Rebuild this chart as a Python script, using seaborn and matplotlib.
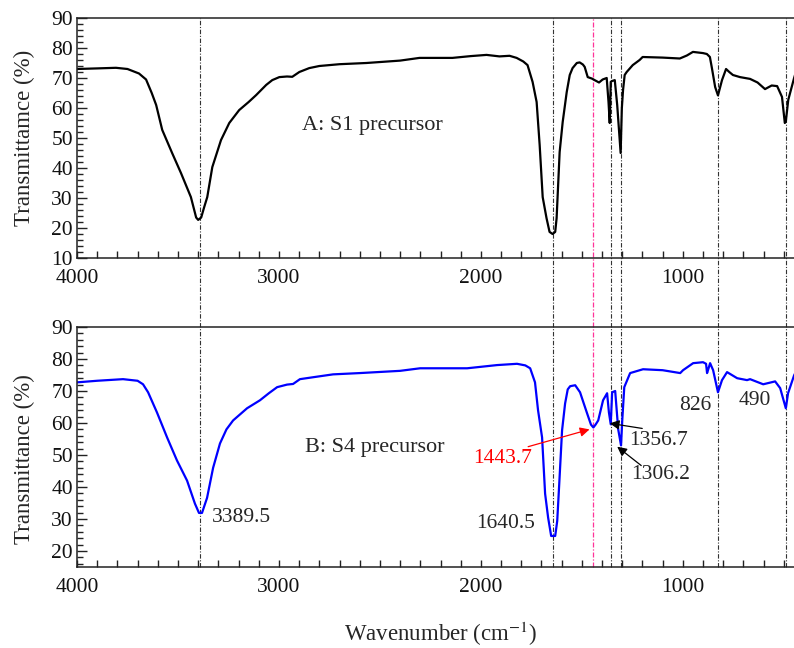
import numpy as np
import pandas as pd
import seaborn as sns
import matplotlib
matplotlib.use("Agg")
import matplotlib.pyplot as plt
from matplotlib.lines import Line2D
from matplotlib.transforms import blended_transform_factory
from matplotlib.ticker import MultipleLocator

# ---- data ----
wn_a = [4000, 3900, 3807, 3750, 3693, 3658, 3630, 3608, 3578, 3529, 3485, 3436, 3410, 3400,
        3385, 3370, 3355, 3330, 3287, 3246, 3197, 3150, 3113, 3063, 3033, 2998, 2960, 2934,
        2899, 2850, 2800, 2700, 2567, 2400, 2304, 2141, 2050, 1972, 1908, 1858, 1823, 1790,
        1769, 1744, 1724, 1709, 1694, 1675, 1660, 1645, 1632, 1625, 1610, 1595, 1575, 1560,
        1546, 1525, 1511, 1495, 1486, 1471, 1450, 1437, 1415, 1397, 1377, 1368, 1362, 1357,
        1350, 1337, 1325, 1308, 1302, 1296, 1288, 1278, 1248, 1214, 1199, 1100, 1015, 980,
        950, 900, 881, 866, 856, 840, 826, 815, 806, 786, 770, 752, 717, 667, 630, 593, 560,
        533, 509, 495, 490, 478, 449, 440]
t_a = [73.0, 73.2, 73.4, 73.0, 71.5, 69.5, 65.0, 61.0, 52.7, 45.0, 38.3, 30.3, 23.5, 22.7,
       23.5, 27.0, 30.3, 40.3, 49.3, 55.0, 59.3, 62.0, 64.3, 67.7, 69.3, 70.3, 70.5, 70.4,
       72.0, 73.3, 74.0, 74.6, 75.0, 75.8, 76.7, 76.7, 77.3, 77.7, 77.2, 77.4, 76.7, 75.5,
       74.3, 68.7, 62.0, 47.7, 30.3, 23.3, 18.7, 18.0, 18.7, 23.3, 45.3, 55.3, 65.3, 71.0,
       73.3, 75.0, 75.2, 74.5, 73.7, 70.3, 69.8, 69.3, 68.5, 69.5, 70.0, 62.0, 55.0, 68.7,
       69.0, 69.3, 61.0, 45.0, 60.0, 66.0, 71.0, 72.0, 74.3, 76.0, 77.0, 76.8, 76.5, 77.5,
       78.7, 78.3, 78.0, 77.0, 73.3, 67.0, 64.2, 67.0, 69.3, 73.0, 72.0, 71.0, 70.3, 69.7,
       68.5, 66.3, 67.5, 67.3, 63.7, 55.0, 55.5, 62.7, 70.0, 72.0]

wn_b = [4000, 3900, 3772, 3700, 3673, 3648, 3604, 3554, 3505, 3455, 3416, 3396, 3381, 3356,
        3326, 3292, 3260, 3227, 3158, 3094, 3050, 3009, 2960, 2930, 2896, 2831, 2732, 2600,
        2400, 2301, 2068, 1920, 1821, 1780, 1756, 1732, 1717, 1697, 1682, 1667, 1652, 1632,
        1622, 1612, 1598, 1583, 1570, 1558, 1533, 1509, 1490, 1474, 1455, 1443, 1432, 1419,
        1395, 1375, 1366, 1357, 1350, 1335, 1320, 1306, 1300, 1290, 1261, 1197, 1100, 1013,
        999, 949, 900, 885, 880, 873, 865, 850, 826, 806, 781, 731, 682, 667, 602, 543, 518,
        490, 479, 449, 440]
t_b = [72.7, 73.2, 73.7, 73.2, 72.1, 69.6, 63.3, 55.5, 48.3, 42.0, 34.8, 31.9, 31.9, 36.6,
       46.0, 53.6, 58.0, 60.8, 64.6, 67.1, 69.3, 71.2, 72.0, 72.2, 73.7, 74.3, 75.2, 75.6,
       76.3, 77.1, 77.1, 78.1, 78.5, 78.0, 77.1, 72.7, 64.0, 55.5, 37.9, 30.4, 24.7, 24.7,
       29.4, 41.0, 57.7, 66.1, 70.5, 71.5, 71.8, 69.6, 66.0, 63.0, 59.5, 58.6, 59.5, 60.8,
       67.1, 69.3, 63.3, 59.6, 69.6, 70.0, 58.0, 53.0, 60.8, 71.2, 75.6, 76.8, 76.5, 75.6,
       76.5, 78.7, 79.0, 78.5, 75.6, 77.0, 78.7, 76.5, 69.6, 73.4, 75.9, 74.0, 73.4, 73.7,
       72.1, 73.0, 70.9, 64.6, 69.3, 74.9, 76.0]

peak_lines = [3389.5, 1640.5, 1356.7, 1306.2, 826, 490]
pink_line = [1443.7]

label_a = "A: S1 precursor"
label_b = "B: S4 precursor"
ylabel_a = "Transmittamce (%)"
ylabel_b = "Transmittance (%)"
xlabel = "Wavenumber (cm$^{-1}$)"

df_a = pd.DataFrame({"wn": wn_a, "T": t_a})
df_b = pd.DataFrame({"wn": wn_b, "T": t_b})

# ---- style ----
sns.set_style("ticks")
plt.rcParams["font.family"] = ["Liberation Serif", "DejaVu Serif"]
plt.rcParams["mathtext.fontset"] = "stix"
plt.rcParams["axes.linewidth"] = 1.1
plt.rcParams["axes.edgecolor"] = "#222222"

fig = plt.figure(figsize=(7.94, 6.48), dpi=100)
W, H = 794, 648
left_px, right_px = 77, 804
ax_a = fig.add_axes([left_px / W, 1 - 258 / H, (right_px - left_px) / W, (258 - 18) / H])
ax_b = fig.add_axes([left_px / W, 1 - 567 / H, (right_px - left_px) / W, (567 - 327) / H])

sns.lineplot(data=df_a, x="wn", y="T", ax=ax_a, color="black", lw=1.6,
             sort=False, estimator=None)
sns.lineplot(data=df_b, x="wn", y="T", ax=ax_b, color="#0000ff", lw=1.6,
             sort=False, estimator=None)

for ax, ylim, ylab in [(ax_a, (10, 90), ylabel_a), (ax_b, (15, 90), ylabel_b)]:
    ax.set_facecolor("none")
    ax.set_xlim(4000, 400)
    ax.set_ylim(*ylim)
    ax.xaxis.set_major_locator(MultipleLocator(1000))
    ax.xaxis.set_minor_locator(MultipleLocator(100))
    ax.yaxis.set_major_locator(MultipleLocator(10))
    ax.yaxis.set_minor_locator(MultipleLocator(2))
    ax.tick_params(axis="both", which="both", direction="in", labelsize=15.5,
                   colors="#222222", labelcolor="#111111")
    ax.tick_params(axis="x", which="both", length=5, width=1, top=False, pad=8)
    ax.tick_params(axis="y", which="major", length=7, width=1, right=False, pad=3)
    ax.tick_params(axis="y", which="minor", length=4, width=1, right=False)
    ax.set_ylabel(ylab, fontsize=16.5)
    ax.set_xlabel("")
    for s in ["top", "left", "bottom"]:
        ax.spines[s].set_visible(True)
    ax.spines["right"].set_visible(False)

ax_a.yaxis.set_label_coords(-0.058, 0.5)
ax_b.yaxis.set_label_coords(-0.058, 0.45)
ax_b.set_xlabel(xlabel, fontsize=16.5)
ax_b.xaxis.set_label_coords((441 - left_px) / (right_px - left_px), -0.22)

# vertical guide lines spanning both panels
tr = blended_transform_factory(ax_a.transData, fig.transFigure)
y_top = 1 - 18 / H
y_bot = 1 - 567 / H
for w in peak_lines:
    fig.add_artist(Line2D([w, w], [y_bot, y_top], transform=tr, color="#333333",
                          lw=0.8, ls=(0, (4, 1.5, 1, 1.5)), zorder=-1))
for w in pink_line:
    fig.add_artist(Line2D([w, w], [y_bot, y_top], transform=tr, color="#ff3399",
                          lw=0.9, ls=(0, (4, 1.5, 1, 1.5)), zorder=-1))

# panel labels
ax_a.text(2885, 54.3, label_a, fontsize=16, ha="left", va="center")
ax_b.text(2871, 52.3, label_b, fontsize=16, ha="left", va="center")

# peak annotations
fs = 15.5
ax_b.text(3330, 30.4, "3389.5", fontsize=fs, ha="left", va="center")
ax_b.text(1732, 28.5, "1640.5", fontsize=fs, ha="right", va="center")
ax_b.text(1746, 48.9, "1443.7", fontsize=fs, ha="right", va="center", color="#ff0000")
ax_b.text(1266, 54.5, "1356.7", fontsize=fs, ha="left", va="center")
ax_b.text(1256, 43.9, "1306.2", fontsize=fs, ha="left", va="center")
ax_b.text(1018, 65.5, "826", fontsize=fs, ha="left", va="center")
ax_b.text(726, 67.1, "490", fontsize=fs, ha="left", va="center")

ax_b.annotate("", xy=(1462, 58.0), xytext=(1766, 52.6),
              arrowprops=dict(arrowstyle="-|>", color="#ff0000", lw=0.9,
                              mutation_scale=14, shrinkA=0, shrinkB=0))
ax_b.annotate("", xy=(1362, 59.9), xytext=(1201, 58.3),
              arrowprops=dict(arrowstyle="-|>", color="black", lw=0.9,
                              mutation_scale=14, shrinkA=0, shrinkB=0))
ax_b.annotate("", xy=(1325, 52.6), xytext=(1206, 46.7),
              arrowprops=dict(arrowstyle="-|>", color="black", lw=0.9,
                              mutation_scale=14, shrinkA=0, shrinkB=0))

fig.savefig("out.png", dpi=100, facecolor="white")
